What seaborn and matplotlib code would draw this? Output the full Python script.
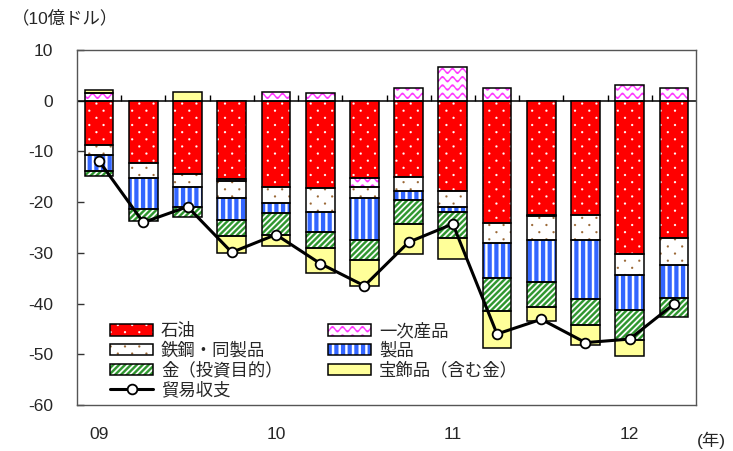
import numpy as np
import pandas as pd
import matplotlib
matplotlib.use("Agg")
import matplotlib.pyplot as plt
import matplotlib.patches as mpatches
from matplotlib import hatch as mhatch
from matplotlib.path import Path
from matplotlib.lines import Line2D
from matplotlib.legend_handler import HandlerTuple
import seaborn as sns

# ---- data (10億ドル, quarterly 2009Q1 - 2012Q2) ----
quarters = ["09Q1", "09Q2", "09Q3", "09Q4", "10Q1", "10Q2", "10Q3",
            "10Q4", "11Q1", "11Q2", "11Q3", "11Q4", "12Q1", "12Q2"]
year_labels = ["09", "10", "11", "12"]
year_positions = [0, 4, 8, 12]

oil = [-8.7, -12.2, -14.5, -15.5, -17.0, -17.3, -15.2, -15.0, -17.8, -24.1, -22.5, -22.5, -30.3, -27.1]
primary = [1.5, 0.0, 0.0, -0.4, 1.8, 1.5, -1.8, 2.5, 6.7, 2.5, -0.3, 0.0, 3.1, 2.5]
steel = [-2.1, -3.1, -2.6, -3.2, -3.2, -4.6, -2.1, -2.8, -3.1, -3.9, -4.6, -5.0, -4.1, -5.2]
products = [-3.1, -6.1, -3.8, -4.4, -2.0, -3.9, -8.4, -1.8, -1.1, -7.0, -8.3, -11.5, -6.9, -6.6]
gold_inv = [-1.0, -2.3, -2.0, -3.2, -4.2, -3.2, -3.9, -4.7, -5.1, -6.5, -4.9, -5.2, -5.9, -3.8]
jewelry = [0.6, 0.0, 1.8, -3.3, -2.3, -4.9, -5.1, -6.0, -4.2, -7.2, -2.9, -3.9, -3.2, 0.0]
balance = [-11.9, -24.0, -20.9, -29.9, -26.4, -32.1, -36.5, -27.9, -24.3, -46.0, -43.1, -47.7, -47.0, -40.1]

series_names = ["石油", "一次産品", "鉄鋼・同製品", "製品", "金（投資目的）", "宝飾品（含む金）"]
balance_name = "貿易収支"


# ---- filled texture patterns for the bar fills (one unit = one inch tile) ----
class _FilledTexture(mhatch.HatchPatternBase):
    key = ""

    def __init__(self, hatch, density):
        self.polys = self.make_polys() if self.key in hatch else []
        self.num_vertices = sum(len(p) + 1 for p in self.polys)

    def make_polys(self):
        return []

    def set_vertices_and_codes(self, vertices, codes):
        i = 0
        for p in self.polys:
            n = len(p)
            vertices[i:i + n] = p
            codes[i] = Path.MOVETO
            codes[i + 1:i + n] = Path.LINETO
            vertices[i + n] = p[0]
            codes[i + n] = Path.CLOSEPOLY
            i += n + 1


class DotTexture(_FilledTexture):
    key = "o"

    def make_polys(self):
        cols, rows, r = 7, 14, 0.011
        ang = np.linspace(0, 2 * np.pi, 9)[:-1]
        circ = np.column_stack([np.cos(ang), np.sin(ang)]) * r
        polys = []
        for j in range(rows):
            y = (j + 0.5) / rows
            shift = 0.25 if j % 2 == 0 else 0.75
            for c in range(cols):
                x = (c + shift) / cols
                polys.append(circ + [x, y])
        return polys


class VStripeTexture(_FilledTexture):
    key = "|"

    def make_polys(self):
        n, w = 15, 0.041
        polys = []
        for k in range(n):
            x0 = k / n + 0.01
            polys.append(np.array([[x0, -0.01], [x0 + w, -0.01], [x0 + w, 1.01], [x0, 1.01]]))
        return polys


class DiagTexture(_FilledTexture):
    key = "/"

    def make_polys(self):
        n = 17
        w = 0.55 / n
        polys = []
        for k in range(-n - 1, n + 1):
            x0 = k / n
            polys.append(np.array([[x0, 0.0], [x0 + w, 0.0], [x0 + w + 1.0, 1.0], [x0 + 1.0, 1.0]]))
        return polys


class WaveTexture(_FilledTexture):
    key = "-"

    def make_polys(self):
        rows, periods, amp, th = 12, 10, 0.022, 0.02
        xs = np.linspace(0, 1, periods * 12 + 1)
        polys = []
        for j in range(rows):
            y0 = (j + 0.5) / rows
            top = y0 + amp * np.sin(2 * np.pi * periods * xs) + th / 2
            bot = top - th
            poly = np.vstack([np.column_stack([xs, top]),
                              np.column_stack([xs[::-1], bot[::-1]])])
            polys.append(poly)
        return polys


mhatch._hatch_types[:] = [DotTexture, VStripeTexture, DiagTexture, WaveTexture]

# ---- style ----
sns.set_theme(style="white")
plt.rcParams["font.family"] = ["Liberation Sans", "Noto Sans CJK JP"]
plt.rcParams["axes.unicode_minus"] = False
plt.rcParams["hatch.linewidth"] = 0.1

fills = [
    dict(face="#ff0000", tex="#ffffff", hatch="o"),   # 石油
    dict(face="#ffffff", tex="#ff33ff", hatch="-"),   # 一次産品
    dict(face="#ffffff", tex="#996633", hatch="o"),   # 鉄鋼・同製品
    dict(face="#ffffff", tex="#3366ff", hatch="|"),   # 製品
    dict(face="#ffffff", tex="#2e962e", hatch="/"),   # 金（投資目的）
    dict(face="#ffff99", tex="#ffff99", hatch=""),    # 宝飾品（含む金）
]

fig = plt.figure(figsize=(7.33, 4.51), dpi=100)
ax = fig.add_axes([77 / 733, 1 - 405 / 451, 619 / 733, 355 / 451])

x = np.arange(len(quarters))
bar_w = 0.65
pos_base = np.zeros(len(x))
neg_base = np.zeros(len(x))
all_series = [oil, primary, steel, products, gold_inv, jewelry]

for vals, st in zip(all_series, fills):
    v = np.asarray(vals, dtype=float)
    bottoms = np.where(v >= 0, pos_base, neg_base)
    m = v != 0
    ax.bar(x[m], v[m], bottom=bottoms[m], width=bar_w, color=st["face"],
           edgecolor=st["tex"], linewidth=0, hatch=st["hatch"], zorder=2)
    ax.bar(x[m], v[m], bottom=bottoms[m], width=bar_w, fill=False,
           edgecolor="black", linewidth=1.1, zorder=3)
    pos_base = pos_base + np.where(v > 0, v, 0)
    neg_base = neg_base + np.where(v < 0, v, 0)

# zero line and category separators
ax.axhline(0, color="black", lw=1.1, zorder=1.5)
ax.vlines(np.arange(0.5, len(x) - 0.5, 1), 0, 1.2, color="black", lw=1.0, zorder=1.5)

# trade balance line
bal_df = pd.DataFrame({"x": x, "balance": balance})
sns.lineplot(data=bal_df, x="x", y="balance", ax=ax, color="black", lw=2.2,
             marker="o", markersize=7, markerfacecolor="white",
             markeredgecolor="black", markeredgewidth=1.3, zorder=5, legend=False)

ax.set_xlim(-0.5, len(x) - 0.5)
ax.set_ylim(-60, 10)
ax.set_yticks(np.arange(-60, 11, 10))
ax.set_xticks(year_positions)
ax.set_xticklabels(year_labels)
ax.set_xlabel("")
ax.set_ylabel("")
ax.tick_params(axis="y", direction="in", length=5, width=1, color="#333333",
               labelsize=12.5, pad=17, left=True)
ax.tick_params(axis="x", length=0, labelsize=12.5, pad=16)
for s in ax.spines.values():
    s.set_color("#555555")
    s.set_linewidth(1.0)
    s.set_visible(True)

# legend
handles = []
for st in fills:
    fill_p = mpatches.Patch(facecolor=st["face"], edgecolor=st["tex"], linewidth=0, hatch=st["hatch"])
    edge_p = mpatches.Patch(fill=False, edgecolor="black", linewidth=1.1)
    handles.append((fill_p, edge_p))
line_h = Line2D([], [], color="black", lw=2.2, marker="o", markersize=7,
                markerfacecolor="white", markeredgecolor="black", markeredgewidth=1.3)

order = [0, 2, 4, None, 1, 3, 5]
leg_handles, leg_labels = [], []
for i in order:
    if i is None:
        leg_handles.append(line_h)
        leg_labels.append(balance_name)
    else:
        leg_handles.append(handles[i])
        leg_labels.append(series_names[i])

ax.legend(leg_handles, leg_labels, ncol=2, loc="upper left",
          bbox_to_anchor=(0.053, 0.232), frameon=False, fontsize=12.5,
          handler_map={tuple: HandlerTuple(ndivide=1, pad=0)},
          handlelength=2.5, handleheight=0.62, handletextpad=0.45,
          labelspacing=0.17, columnspacing=2.6, borderpad=0, borderaxespad=0)

fig.text(12 / 733, 1 - 18 / 451, "（10億ドル）", ha="left", va="center", fontsize=12.5)
fig.text(726 / 733, 1 - 440 / 451, "(年)", ha="right", va="center", fontsize=12.5)

fig.savefig("out.png", dpi=100)
